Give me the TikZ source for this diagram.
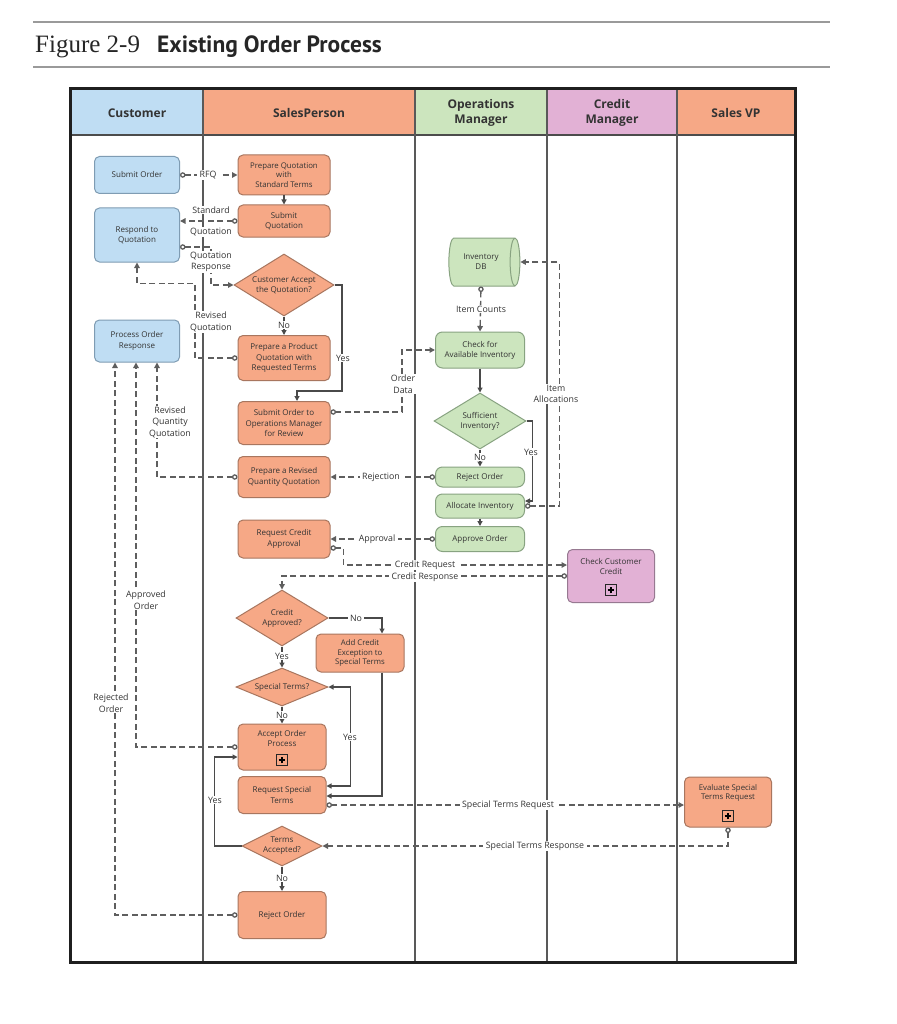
\documentclass[tikz,border=0pt]{standalone}
\usepackage{fontspec}
\setmainfont{Open Sans}
\newfontfamily\tserif{Liberation Serif}
\newfontfamily\tsans{PT Sans}
\usetikzlibrary{shapes.geometric,arrows.meta,calc}
\definecolor{cblue}{HTML}{BFDDF3}
\definecolor{cblueb}{HTML}{7F9CB3}
\definecolor{csal}{HTML}{F6A886}
\definecolor{csalb}{HTML}{A8765F}
\definecolor{cgrn}{HTML}{CCE5BE}
\definecolor{cgrnb}{HTML}{88A381}
\definecolor{cpnk}{HTML}{E2B1D5}
\definecolor{cpnkb}{HTML}{977991}
\definecolor{cline}{HTML}{4A4A4A}
\definecolor{cmsg}{HTML}{5E5E5E}
\definecolor{ctxt}{HTML}{333333}
\definecolor{crule}{HTML}{9A9A9A}
\begin{document}
\begin{tikzpicture}[x=1pt,y=-1pt,
  nbox/.style={rectangle, rounded corners=5pt, line width=1pt, align=center, inner sep=1pt,
    font=\fontsize{8}{10.2}\selectfont, text=ctxt},
  cust/.style={nbox, fill=cblue, draw=cblueb, minimum width=85pt},
  sal/.style={nbox, fill=csal, draw=csalb, minimum width=92pt},
  grn/.style={nbox, fill=cgrn, draw=cgrnb, minimum width=89pt, rounded corners=7pt},
  pnk/.style={nbox, fill=cpnk, draw=cpnkb, minimum width=87pt},
  dia/.style={diamond, aspect=1.6, inner sep=0pt, line width=1pt, align=center,
    font=\fontsize{8}{10}\selectfont, text=ctxt},
  sdia/.style={dia, fill=csal, draw=csalb},
  gdia/.style={dia, fill=cgrn, draw=cgrnb},
  flow/.style={draw=cline, line width=1.2pt, -{Triangle[length=5pt,width=5pt]}},
  flowb/.style={draw=cline, line width=1.2pt, {Triangle[length=5pt,width=5pt]}-{Triangle[length=5pt,width=5pt]}},
  msg/.style={draw=cmsg, line width=1.3pt, dash pattern=on 6pt off 3.5pt,
    {Circle[length=5.5pt,width=5.5pt,fill=white]}-{Triangle[length=5.5pt,width=5.5pt]}},
  lbl/.style={fill=white, inner xsep=2.5pt, inner ysep=0.8pt, font=\fontsize{8.8}{11.5}\selectfont, text=ctxt, align=center},
  plusbox/.style={draw=black!85, line width=0.9pt, minimum size=11pt, inner sep=0pt,
    path picture={\draw[line width=1.6pt, black] ([xshift=-3.3pt]path picture bounding box.center) -- ([xshift=3.3pt]path picture bounding box.center);
      \draw[line width=1.6pt, black] ([yshift=-3.3pt]path picture bounding box.center) -- ([yshift=3.3pt]path picture bounding box.center);}},
  hdr/.style={align=center, font=\bfseries\fontsize{12}{15}\selectfont, text=ctxt}
]
\useasboundingbox (0,0) rectangle (896,1024);
\fill[white] (0,0) rectangle (896,1024);
% title
\draw[crule, line width=2pt] (33,22) -- (830,22);
\draw[crule, line width=2pt] (33,67) -- (830,67);
\node[anchor=base west, inner sep=0pt, font=\tserif\fontsize{25}{27}\selectfont, text=black!85] (fig) at (35,53) {Figure 2-9};
\node[anchor=base west, inner sep=0pt, font=\tsans\bfseries\fontsize{23.5}{25}\selectfont, text=black!85] (ttl) at (157,53) {Existing Order Process};
% header
\fill[cblue] (70,89) rectangle (203,135);
\fill[csal] (203,89) rectangle (415,135);
\fill[cgrn] (415,89) rectangle (547,135);
\fill[cpnk] (547,89) rectangle (677,135);
\fill[csal] (677,89) rectangle (795,135);
\node[hdr] (h1) at (137,113) {Customer};
\node[hdr] (h2) at (309,113) {SalesPerson};
\node[hdr] (h3) at (481,113) {Operations\\Manager};
\node[hdr] (h4) at (612,113) {Credit\\Manager};
\node[hdr] (h5) at (736,113) {Sales VP};
\draw[black!70, line width=1.2pt] (70,135) -- (795,135);
\foreach \xx in {203,415,547,677} \draw[black!65, line width=1.2pt] (\xx,89) -- (\xx,962);
\draw[black!88, line width=3pt] (70,89) rectangle (795,962);

% customer
\node[cust, minimum height=37pt] (so) at (137,175) {Submit Order};
\node[cust, minimum height=54pt] (rq) at (137,235) {Respond to\\Quotation};
\node[cust, minimum height=42pt] (por) at (137,341) {Process Order\\Response};
% salesperson
\node[sal, minimum height=40pt, font=\fontsize{7.8}{9.6}\selectfont] (pq) at (284,175) {Prepare Quotation\\with\\Standard Terms};
\node[sal, minimum height=32pt] (sq) at (284,221) {Submit\\Quotation};
\node[sdia, minimum width=100pt, minimum height=62pt] (ca) at (284,285) {Customer Accept\\the Quotation?};
\node[sal, minimum height=45pt] (pp) at (284,358) {Prepare a Product\\Quotation with\\Requested Terms};
\node[sal, minimum height=43pt] (soo) at (284,423) {Submit Order to\\Operations Manager\\for Review};
\node[sal, minimum height=41pt] (prq) at (284,477) {Prepare a Revised\\Quantity Quotation};
\node[sal, minimum height=38pt] (rca) at (284,539) {Request Credit\\Approval};
\node[sdia, minimum width=92pt, minimum height=56pt] (cra) at (282,618) {Credit\\Approved?};
\node[sal, minimum width=88pt, minimum height=38pt, font=\fontsize{7.8}{9.4}\selectfont] (ace) at (360,653) {Add Credit\\Exception to\\Special Terms};
\node[sdia, aspect=2.6, minimum width=92pt, minimum height=38pt] (st) at (282,687) {Special Terms?};
\node[sal, minimum width=88pt, minimum height=46pt, font=\fontsize{8}{9.6}\selectfont] (aop) at (282,747) {Accept Order\\Process\\[8pt]};
\node[plusbox, fill=csal] (aopp) at (282,760) {};
\node[sal, minimum width=88pt, minimum height=37pt] (rst) at (282,795) {Request Special\\Terms};
\node[sdia, aspect=2, minimum width=80pt, minimum height=40pt] (ta) at (282,846) {Terms\\Accepted?};
\node[sal, minimum width=88pt, minimum height=47pt] (ro) at (282,915) {Reject Order};
% operations
\node[cylinder, aspect=0.55, draw=cgrnb, fill=cgrn, line width=1pt, minimum width=48pt, minimum height=71pt,
  align=center, font=\fontsize{8}{10}\selectfont, text=ctxt, inner sep=1pt] (db) at (481,262) {Inventory\\DB};
\node[grn, minimum height=36pt] (cai) at (480,350) {Check for\\Available Inventory};
\node[gdia, minimum width=92pt, minimum height=56pt] (si) at (480,421) {Sufficient\\Inventory?};
\node[grn, minimum height=20pt] (roo) at (480,477) {Reject Order};
\node[grn, minimum height=24pt] (ai) at (480,506) {Allocate Inventory};
\node[grn, minimum height=25pt] (ao) at (480,539) {Approve Order};
% credit manager
\node[pnk, minimum height=53pt, font=\fontsize{8}{9.6}\selectfont] (ccc) at (611,576) {Check Customer\\Credit\\[10pt]};
\node[plusbox, fill=cpnk] (cccp) at (611,590) {};
% sales vp
\node[sal, minimum width=87pt, minimum height=50pt, font=\fontsize{7.8}{9.6}\selectfont] (est) at (728,802) {Evaluate Special\\Terms Request\\[10pt]};
\node[plusbox, fill=csal] (estp) at (728,816) {};

% connectors
\draw[msg] (so.east) -- (pq.west);
\draw[flow] (pq) -- (sq);
\draw[msg] (sq.west) -- (sq.west -| rq.east);
\draw[msg] ($(rq.east)+(0,12)$) -- ++(31,0) |- (ca.west);
\draw[msg] (pp.west) -| ($(rq.south)+(58,21)$) -| (rq.south);
\draw[flow] (ca) -- (pp);
\draw[flow] (ca.east) -| ($(soo.north)+(58,-10)$) -| ($(soo.north)+(13,0)$);
\draw[msg] ($(soo.east)+(0,-11)$) -| ($(cai.west)+(-33,0)$) -- (cai.west);
\draw[msg] (db.south) -- (cai.north);
\draw[flow] (cai) -- (si);
\draw[flow] (si) -- (roo);
\draw[flow] (si.east) -- ++(6,0) |- ($(ai.east)+(0,-5)$);
\draw[msg] (ai.east) -| ($(db.east)+(39,0)$) -- (db.east);
\draw[flow] (ai) -- (ao);
\draw[msg] (roo.west) -- (prq.east);
\draw[msg] (prq.west) -| ($(por.south)+(20,0)$);
\draw[msg] (ao.west) -- (rca.east);
\draw[msg] ($(rca.east)+(0,9)$) -- ++(13,0) |- ($(ccc.west)+(0,-11)$);
\draw[msg] (ccc.west) -| (cra.north);
\draw[flow] (cra.east) -| ($(ace.north)+(22,0)$);
\draw[flow] (cra) -- (st);
\draw[flow] ($(ace.south)+(22,0)$) |- ($(rst.east)+(0,1)$);
\draw[flow] (st) -- (aop);
\draw[flowb] (st.east) -| ($(rst.east)+(24,-9)$) -- ($(rst.east)+(0,-9)$);
\draw[msg] (aop.west) -| ($(por.south)+(-1,0)$);
\draw[msg] (ro.west) -| ($(por.south)+(-22,0)$);
\draw[msg] ($(rst.east)+(0,10)$) -- ($(est.west)+(0,3)$);
\draw[msg] (est.south) |- (ta.east);
\draw[flow] (ta.west) -| ($(aop.west)+(-23,10)$) -- ($(aop.west)+(0,10)$);
\draw[flow] (ta) -- (ro);

% labels
\node[lbl] (l1) at (208,175) {RFQ};
\node[lbl] (l2) at (211,210) {Standard};
\node[lbl] (l3) at (211,232) {Quotation};
\node[lbl] (l4) at (211,262) {Quotation\\Response};
\node[lbl] (l5) at (211,322) {Revised\\Quotation};
\node[lbl] (l6) at (284,325) {No};
\node[lbl] (l7) at (343,358) {Yes};
\node[lbl] (l8) at (403,384) {Order\\Data};
\node[lbl] (l9) at (481,309) {Item Counts};
\node[lbl] (l10) at (480,457) {No};
\node[lbl] (l11) at (531,452) {Yes};
\node[lbl] (l12) at (556,394) {Item\\Allocations};
\node[lbl] (l13) at (381,477) {Rejection};
\node[lbl] (l14) at (170,422) {Revised\\Quantity\\Quotation};
\node[lbl] (l15) at (377,539) {Approval};
\node[lbl, inner ysep=0.2pt] (l16) at (425,565) {Credit Request};
\node[lbl, inner ysep=0.2pt] (l17) at (425,577) {Credit Response};
\node[lbl] (l18) at (356,618) {No};
\node[lbl] (l19) at (282,656) {Yes};
\node[lbl] (l20) at (282,715) {No};
\node[lbl] (l21) at (350,737) {Yes};
\node[lbl] (l22) at (146,600) {Approved\\Order};
\node[lbl] (l23) at (111,703) {Rejected\\Order};
\node[lbl] (l24) at (508,805) {Special Terms Request};
\node[lbl] (l25) at (535,846) {Special Terms Response};
\node[lbl] (l26) at (215,800) {Yes};
\node[lbl] (l27) at (282,878) {No};
\end{tikzpicture}
\end{document}
